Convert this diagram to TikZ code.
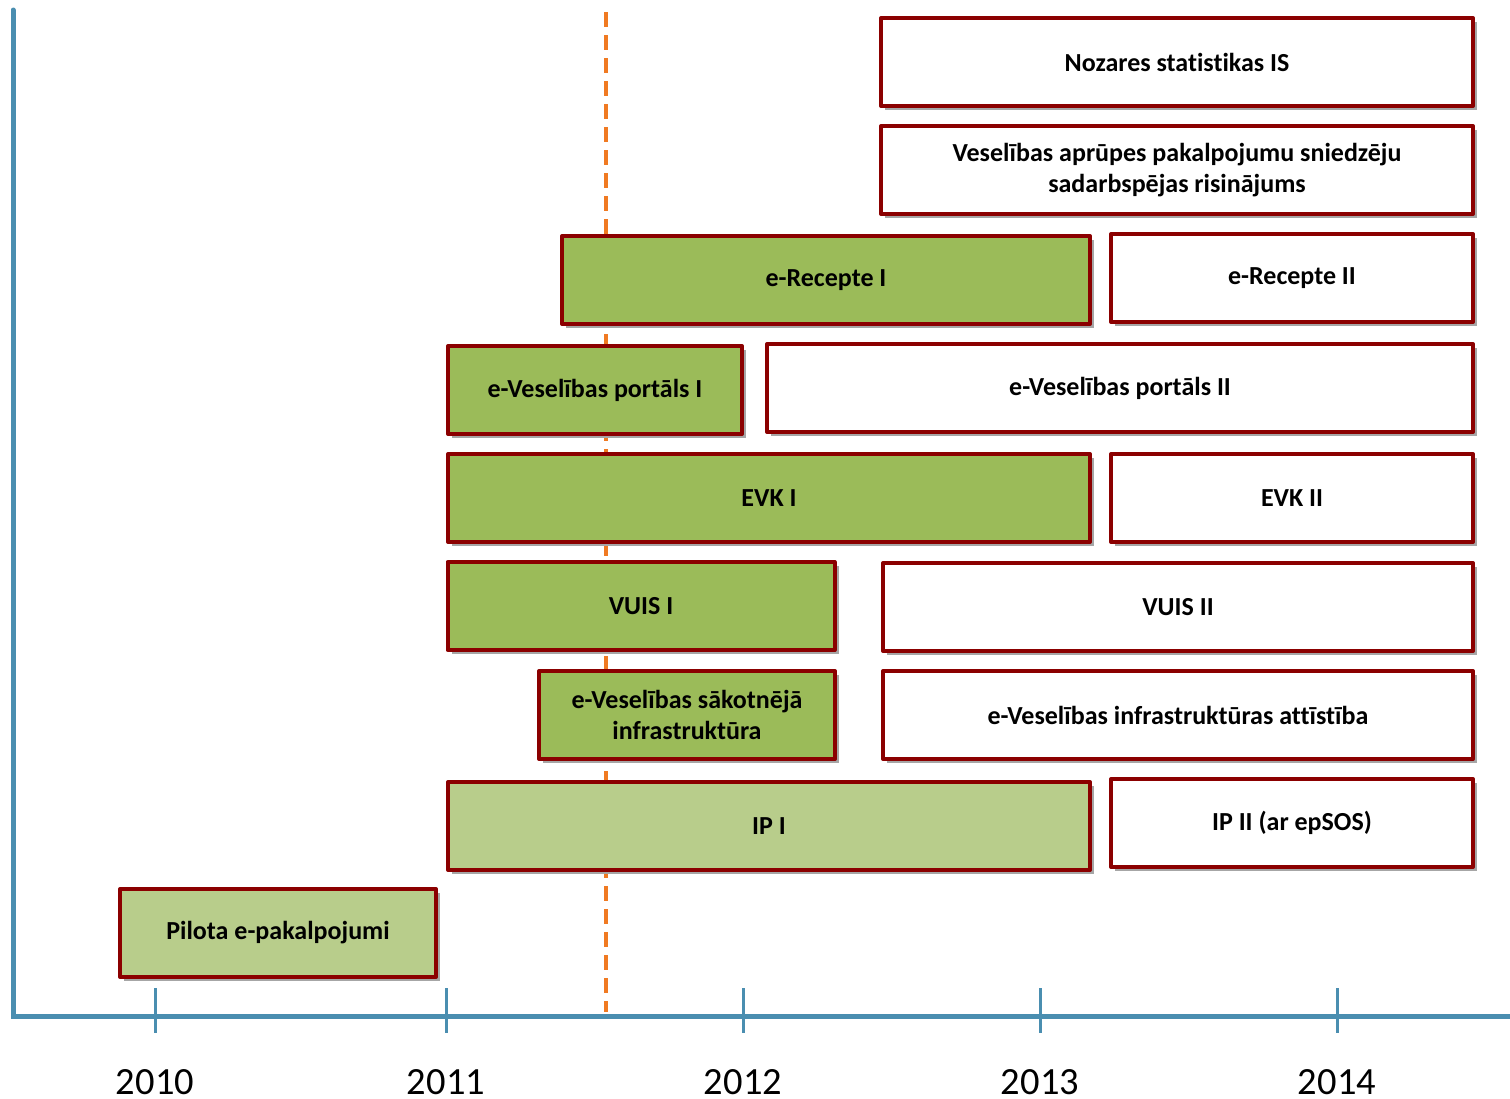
\documentclass[tikz,border=0pt]{standalone}
\usepackage{fontspec}
\setmainfont[Ligatures={NoCommon}]{Carlito}
\usetikzlibrary{shadows}
\definecolor{boxred}{HTML}{8B0000}
\definecolor{darkgreen}{HTML}{9BBB59}
\definecolor{lightgreen}{HTML}{B8CD8B}
\definecolor{axisblue}{HTML}{4A8EB0}
\definecolor{dashorange}{HTML}{F07A22}
\begin{document}
\begin{tikzpicture}[x=1pt,y=-1pt,
  tbox/.style={draw=boxred, line width=4pt, line join=round, fill=white, rectangle, inner sep=2pt,
    align=center, font=\bfseries\fontsize{26}{31}\selectfont,
    general shadow={fill=black!35, shadow xshift=4pt, shadow yshift=-4pt}},
  gbox/.style={tbox, fill=darkgreen},
  lbox/.style={tbox, fill=lightgreen},
  yearlbl/.style={font=\fontsize{38.5}{42}\selectfont, inner sep=0pt},
  axisline/.style={draw=axisblue, line width=5pt, line cap=round},
  tickline/.style={draw=axisblue, line width=3pt},
  dashline/.style={draw=dashorange, line width=3.5pt, dash pattern=on 15pt off 8pt}
]
\useasboundingbox (0,0) rectangle (1510,1098);
% dashed marker
\coordinate (d1) at (606,12);
\coordinate (d2) at (606,1012);
\draw[dashline] (d1) -- (d2);
% axes
\coordinate (o) at (13,1016);
\coordinate (ytop) at (13,10);
\coordinate (xend) at (1510,1016);
\draw[axisline] (ytop) -- (o) -- (xend);
% ticks and years
\foreach \xx/\yr in {155/2010,446/2011,743/2012,1040/2013,1337/2014}{
  \coordinate (t\yr a) at (\xx,988);
  \coordinate (t\yr b) at (\xx,1033);
  \draw[tickline] (t\yr a) -- (t\yr b);
  \node[yearlbl, anchor=base] (y\yr) at (\xx,1094) {\yr};
}
% boxes: center x, center y, width, height
\newcommand{\mybox}[7]{%
  \node[#1, minimum width=#5pt-4pt, minimum height=#6pt-4pt] (#2) at (#3,#4) {#7};}
\mybox{tbox}{n1}{1177}{62}{596}{92}{Nozares statistikas IS}
\mybox{tbox}{n2}{1177}{170}{596}{92}{Veselības aprūpes pakalpojumu sniedzēju\\sadarbspējas risinājums}
\mybox{gbox}{n3}{826}{280}{532}{92}{e-Recepte I}
\mybox{tbox}{n4}{1292}{278}{366}{92}{e-Recepte II}
\mybox{gbox}{n5}{595}{390}{298}{92}{e-Veselības portāls I}
\mybox{tbox}{n6}{1120}{388}{710}{92}{e-Veselības portāls II}
\mybox{gbox}{n7}{769}{498}{646}{92}{EVK I}
\mybox{tbox}{n8}{1292}{498}{366}{92}{EVK II}
\mybox{gbox}{n9}{641}{606}{391}{92}{VUIS I}
\mybox{tbox}{n10}{1178}{607}{594}{92}{VUIS II}
\mybox{gbox}{n11}{687}{715}{300}{92}{e-Veselības sākotnējā\\infrastruktūra}
\mybox{tbox}{n12}{1178}{715}{594}{92}{e-Veselības infrastruktūras attīstība}
\mybox{lbox}{n13}{769}{826}{646}{92}{IP I}
\mybox{tbox}{n14}{1292}{823}{366}{92}{IP II (ar epSOS)}
\mybox{lbox}{n15}{278}{933}{320}{92}{Pilota e-pakalpojumi}
\end{tikzpicture}
\end{document}
